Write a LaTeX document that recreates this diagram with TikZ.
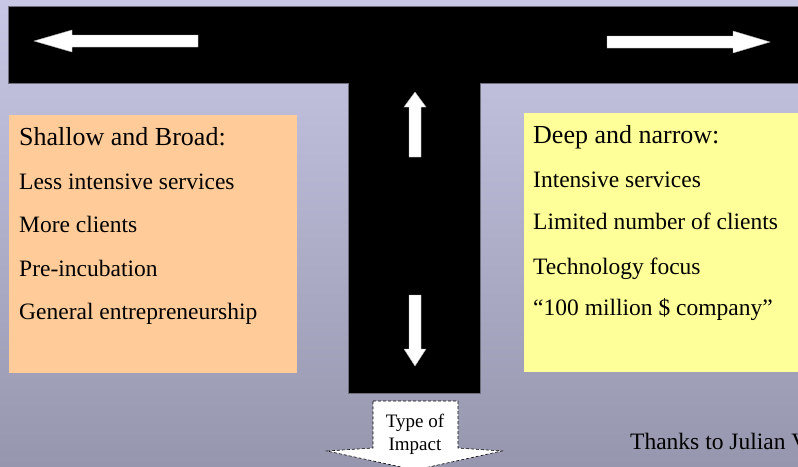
\documentclass[tikz,border=0pt]{standalone}
\usepackage{fontspec}
\setmainfont{Liberation Serif}
\usetikzlibrary{positioning}

\definecolor{bgtop}{RGB}{200,200,230}
\definecolor{bgbottom}{RGB}{150,150,174}
\definecolor{peach}{RGB}{255,204,153}
\definecolor{paleyellow}{RGB}{255,255,153}
\definecolor{edgegray}{RGB}{110,110,125}

\tikzset{
	heading/.style={anchor=base west, inner sep=0pt, font=\fontsize{26}{30}\selectfont},
	item/.style={anchor=base west, inner sep=0pt, font=\fontsize{23.5}{28}\selectfont},
	whitearrow/.style={fill=white, draw=gray!60, line width=0.4pt}
}

\begin{document}
\begin{tikzpicture}[x=1pt, y=-1pt]
	\useasboundingbox (0,0) rectangle (798,466);

	% Background
	\shade[top color=bgtop, bottom color=bgbottom] (0,0) rectangle (798,466);

	% T shaped bar
	\begin{scope}
		\fill[black, draw=edgegray, line width=0.8pt]
			(8,6) -- (812,6) -- (812,83) -- (480,83) -- (480,393)
			-- (348,393) -- (348,83) -- (8,83) -- cycle;

		% Left arrow
		\fill[whitearrow] (198,35) -- (72,35) -- (72,30) -- (34,41)
			-- (72,52) -- (72,47) -- (198,47) -- cycle;
		% Right arrow
		\fill[whitearrow] (607,36) -- (733,36) -- (733,31) -- (770,42)
			-- (733,53) -- (733,48) -- (607,48) -- cycle;

		% Up arrow
		\fill[whitearrow] (409,157) -- (409,107) -- (404,107) -- (415,92)
			-- (426,107) -- (421,107) -- (421,157) -- cycle;
		% Down arrow
		\fill[whitearrow] (409,295) -- (409,349) -- (404,349) -- (415,366)
			-- (426,349) -- (421,349) -- (421,295) -- cycle;
	\end{scope}

	% Shallow and broad box
	\fill[peach] (9,115) rectangle (297,373);
	\node[heading] (shallow) at (19,145) {Shallow and Broad:};
	\node[item] (lessint) at (19,189) {Less intensive services};
	\node[item] (moreclients) at (19,232) {More clients};
	\node[item] (preinc) at (19,276) {Pre-incubation};
	\node[item] (general) at (19,319) {General entrepreneurship};

	% Deep and narrow box
	\fill[paleyellow] (524,113) rectangle (805,372);
	\node[heading] (deep) at (533,143) {Deep and narrow:};
	\node[item] (intensive) at (533,187) {Intensive services};
	\node[item] (limited) at (533,229) {Limited number of clients};
	\node[item] (techfocus) at (533,274) {Technology focus};
	\node[item] (hundred) at (533,315) {``100 million \$ company''};

	% Impact arrow
	\draw[fill=white, line width=0.6pt, dash pattern=on 3pt off 2pt]
		(373,401) -- (458,401) -- (458,448) -- (502,451) -- (415,470)
		-- (327,451) -- (373,448) -- cycle;
	\node[align=center, inner sep=0pt, font=\fontsize{19}{23}\selectfont]
		(impact) at (415,434) {Type of\\Impact};

	% Credit line
	\node[item] (thanks) at (630,449) {Thanks to Julian V};
\end{tikzpicture}
\end{document}
